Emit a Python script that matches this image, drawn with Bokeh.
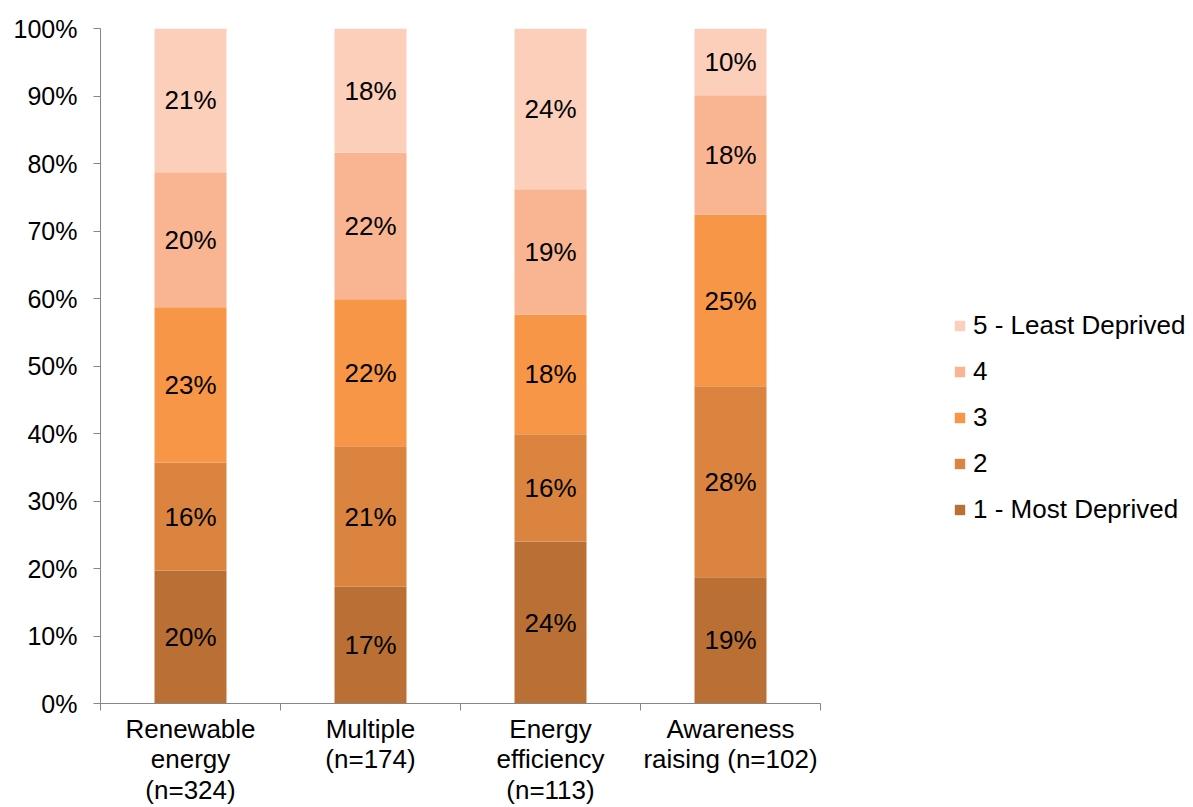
from bokeh.plotting import figure
from bokeh.models import (ColumnDataSource, FixedTicker, Legend, LegendItem,
                          NumeralTickFormatter)
from bokeh.core.properties import value
from bokeh.embed import file_html
from bokeh.resources import INLINE

# Projects by deprivation quintile (share of projects in each group)
categories = ["Renewable\nenergy\n(n=324)", "Multiple\n(n=174)",
              "Energy\nefficiency\n(n=113)", "Awareness\nraising (n=102)"]
levels = ["1 - Most Deprived", "2", "3", "4", "5 - Least Deprived"]
q1 = [0.197, 0.173, 0.240, 0.187]
q2 = [0.160, 0.208, 0.159, 0.283]
q3 = [0.230, 0.218, 0.177, 0.254]
q4 = [0.200, 0.217, 0.186, 0.177]
q5 = [0.213, 0.184, 0.238, 0.099]
y_ticks = [0, 0.1, 0.2, 0.3, 0.4, 0.5, 0.6, 0.7, 0.8, 0.9, 1.0]

colors = ["#BA7034", "#DA8440", "#F79646", "#F9B592", "#FBCFB9"]
FONT = "Liberation Sans"

series = [q1, q2, q3, q4, q5]
keys = ["q1", "q2", "q3", "q4", "q5"]
n = len(categories)
xs = [i + 0.5 for i in range(n)]
data = {"x": xs}
for k, s in zip(keys, series):
    data[k] = s
source = ColumnDataSource(data)

# The frame runs to the right edge so the legend can sit beside the bars;
# the x axis itself is bounded to the four categories.
CAT_PX = 180.0
x_end = (1193 - 100) / CAT_PX

p = figure(width=1193, height=807, x_range=(0, x_end), y_range=(0, 1),
           output_backend="svg", toolbar_location=None,
           min_border_left=100, min_border_right=0,
           min_border_top=28, min_border_bottom=104)
p.outline_line_color = None
p.xgrid.visible = False
p.ygrid.visible = False

renderers = p.vbar_stack(keys, x="x", width=0.4, color=colors,
                         line_color=None, source=source)

# Percentage labels centred in each segment
lx, ly, lt = [], [], []
for i, x in enumerate(xs):
    base = 0.0
    for s in series:
        v = s[i]
        lx.append(x)
        ly.append(base + v / 2)
        lt.append(f"{round(v * 100)}%")
        base += v
p.text(x=lx, y=ly, text=lt, text_align="center", text_baseline="middle",
       text_font=value(FONT), text_font_size="26px", text_color="#000000")

# Axes
axis_color = "#868686"
p.yaxis.ticker = FixedTicker(ticks=y_ticks)
p.yaxis.formatter = NumeralTickFormatter(format="0%")
p.yaxis.axis_line_color = axis_color
p.yaxis.major_tick_line_color = axis_color
p.yaxis.major_tick_out = 7
p.yaxis.major_tick_in = 0
p.yaxis.minor_tick_line_color = None
p.yaxis.major_label_standoff = 16
p.yaxis.major_label_text_font = FONT
p.yaxis.major_label_text_font_size = "25px"
p.yaxis.major_label_text_color = "#000000"

p.xaxis.bounds = (0, n)
p.xaxis.ticker = FixedTicker(ticks=xs, minor_ticks=list(range(n + 1)))
p.xaxis.major_label_overrides = {x: c for x, c in zip(xs, categories)}
p.xaxis.axis_line_color = axis_color
p.xaxis.major_tick_line_color = None
p.xaxis.minor_tick_line_color = axis_color
p.xaxis.minor_tick_out = 7
p.xaxis.minor_tick_in = 0
p.xaxis.major_tick_out = 7
p.xaxis.major_tick_in = 0
p.xaxis.major_label_standoff = 3
p.xaxis.major_label_text_font = FONT
p.xaxis.major_label_text_font_size = "26px"
p.xaxis.major_label_text_color = "#000000"
p.xaxis.major_label_text_line_height = 1.02

# Legend, highest quintile on top
items = [LegendItem(label=levels[i], renderers=[renderers[i]])
         for i in reversed(range(len(levels)))]
legend = Legend(items=items, location=(853, 178), orientation="vertical",
                border_line_color=None, background_fill_alpha=0,
                padding=0, margin=0, spacing=15,
                glyph_width=13, glyph_height=13, label_height=30,
                label_standoff=7, label_text_font=FONT,
                label_text_font_size="26px", label_text_color="#000000")
p.add_layout(legend, "center")

open("out.html", "w").write(file_html(p, INLINE))
